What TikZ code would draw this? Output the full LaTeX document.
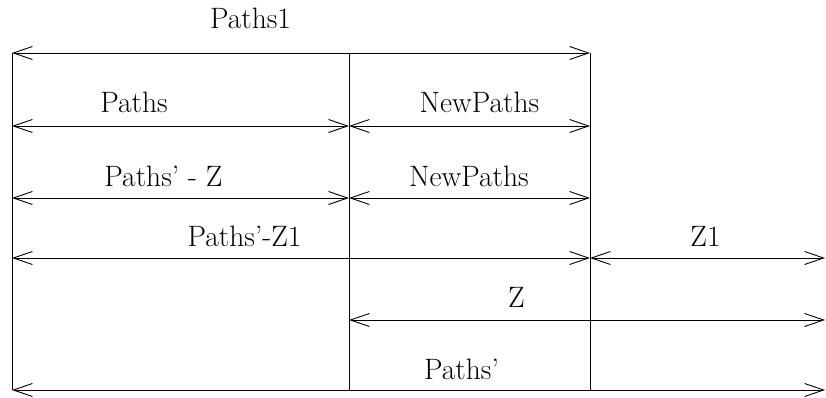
\documentclass[tikz,border=0pt]{standalone}
\usetikzlibrary{arrows.meta}
\begin{document}
\begin{tikzpicture}[x=1pt,y=-1pt,
  span/.style={draw=black,line width=0.9pt,
    {Straight Barb[length=19pt,width=13pt]}-{Straight Barb[length=19pt,width=13pt]}},
  divider/.style={draw=black,line width=0.9pt},
  lbl/.style={anchor=base,inner sep=0pt,font=\fontsize{29.5}{35}\selectfont}]
\useasboundingbox (0,0) rectangle (826,398);

% column positions
\coordinate (a1) at (12,53);   \coordinate (b1) at (349,53);  \coordinate (c1) at (590,53);
\coordinate (a2) at (12,126);  \coordinate (b2) at (349,126); \coordinate (c2) at (590,126);
\coordinate (a3) at (12,198);  \coordinate (b3) at (349,198); \coordinate (c3) at (590,198);
\coordinate (a4) at (12,258);  \coordinate (c4) at (590,258); \coordinate (d4) at (825,258);
\coordinate (b5) at (349,320); \coordinate (d5) at (825,320);
\coordinate (a6) at (12,390);  \coordinate (b6) at (349,390); \coordinate (c6) at (590,390);
\coordinate (d6) at (825,390);

% vertical dividers
\draw[divider] (a1) -- (a6);
\draw[divider] (b1) -- (b6);
\draw[divider] (c1) -- (c6);

% spans
\draw[span] (a1) -- (c1);
\draw[span] (a2) -- (b2);
\draw[span] (b2) -- (c2);
\draw[span] (a3) -- (b3);
\draw[span] (b3) -- (c3);
\draw[span] (a4) -- (c4);
\draw[span] (c4) -- (d4);
\draw[span] (b5) -- (d5);
\draw[span] (a6) -- (d6);

% labels
\node[lbl] (t1) at (250.5,29) {Paths1};
\node[lbl] (t2) at (134,113) {Paths};
\node[lbl] (t3) at (479.5,113) {NewPaths};
\node[lbl] (t4) at (163.5,186) {Paths' - Z};
\node[lbl] (t5) at (469,186) {NewPaths};
\node[lbl] (t6) at (244.5,246) {Paths'-Z1};
\node[lbl] (t7) at (705.5,246) {Z1};
\node[lbl] (t8) at (516.5,307) {Z};
\node[lbl] (t9) at (461.5,379) {Paths'};
\end{tikzpicture}
\end{document}
